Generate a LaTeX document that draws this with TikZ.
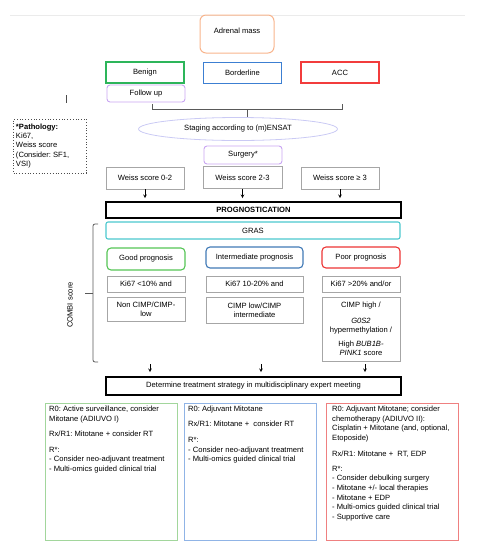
\documentclass[tikz,border=0pt]{standalone}
\usepackage{fontspec}
\setmainfont{Liberation Sans}
\usepackage{tikz}
\usetikzlibrary{shapes,arrows}
\usepackage{xcolor}
\definecolor{massorange}{HTML}{F8B48C}
\definecolor{benigngreen}{HTML}{2DB55A}
\definecolor{borderblue}{HTML}{3C7FD2}
\definecolor{accred}{HTML}{F23C3C}
\definecolor{softpurple}{HTML}{C8A4F2}
\definecolor{stagepurple}{HTML}{CACAF4}
\definecolor{boxgrey}{HTML}{A6A6A6}
\definecolor{grascyan}{HTML}{4CC8CE}
\definecolor{goodgreen}{HTML}{55C455}
\definecolor{interblue}{HTML}{4079B6}
\definecolor{poorred}{HTML}{EC3434}
\definecolor{outgreen}{HTML}{A2D69C}
\definecolor{outblue}{HTML}{90B4E6}
\definecolor{outred}{HTML}{EF8080}
\frenchspacing

\begin{document}
\begin{tikzpicture}[x=1pt,y=-1pt,
	every node/.style={font=\fontsize{7.6}{9.4}\selectfont, inner sep=2pt},
	topbox/.style={draw, line width=1.3pt, minimum width=78, minimum height=21},
	softbox/.style={draw=softpurple, line width=0.9pt, rounded corners=3, minimum width=78},
	greybox/.style={draw=boxgrey, line width=0.7pt, align=center},
	bigbox/.style={draw=black, line width=1.8pt, minimum width=295},
	progbox/.style={draw, line width=1.1pt, rounded corners=4, minimum height=21},
	outbox/.style={draw, line width=1pt, minimum width=132, minimum height=137, anchor=north west},
	outtext/.style={anchor=north west, align=left, inner sep=0pt, font=\fontsize{7.6}{9.6}\selectfont},
	arr/.style={->, >=stealth, line width=0.6pt}]
		\useasboundingbox (0,0) rectangle (477,550);
		\draw[black!8] (10,15) -- (465,15);
		% diagnosis
		\node[draw=massorange, line width=1pt, rounded corners=6, minimum width=74, minimum height=38] (mass) at (237,34) {};
		\node (masstext) at (237,31) {Adrenal mass};
		\node[topbox, draw=benigngreen] (benign) at (145,72.5) {Benign};
		\node[topbox, draw=borderblue] (border) at (242.5,73) {Borderline};
		\node[topbox, draw=accred] (acc) at (340,72.5) {ACC};
		\node[softbox, minimum height=17] (follow) at (146,93.5) {Follow up};
		\draw[black!70, line width=0.6pt] (66,95) -- (66,103);
		% bracket to staging
		\coordinate (brk) at (247,109);
		\draw[black!65, line width=0.8pt] (152,104) -- (152,109) -- (342,109) -- (342,104);
		\node[ellipse, draw=stagepurple, line width=0.8pt, minimum width=199, minimum height=23] (stage) at (238,129) {Staging according to (m)ENSAT};
		\draw[black!65, line width=0.8pt] (brk) -- (brk |- stage.north);
		\node[draw=black!70, dotted, line width=0.8pt, minimum width=72, minimum height=54, text width=68, align=flush left, inner sep=2.5pt] (patho) at (50,146) {\textbf{*Pathology:}\\Ki67,\\Weiss score\\(Consider: SF1,\\VSI)};
		\node[softbox, minimum height=18] (surgery) at (243,155) {Surgery*};
		% weiss score
		\node[greybox, minimum width=78, minimum height=22] (w1) at (145,178) {Weiss score 0-2};
		\node[greybox, minimum width=79, minimum height=22] (w2) at (242.5,177.5) {Weiss score 2-3};
		\node[greybox, minimum width=78, minimum height=22] (w3) at (340,178) {Weiss score ≥ 3};
		\node[bigbox, minimum height=16] (prog) at (253.5,210) {\textbf{PROGNOSTICATION}};
		\draw[arr] (w1.south) -- ([yshift=3pt]w1.south |- prog.north);
		\draw[arr] (w2.south) -- ([yshift=3pt]w2.south |- prog.north);
		\draw[arr] (w3.south) -- ([yshift=3pt]w3.south |- prog.north);
		% prognosis
		\node[draw=grascyan, line width=1.1pt, rounded corners=2, minimum width=294, minimum height=17] (gras) at (253,230.5) {GRAS};
		\node[progbox, draw=goodgreen, minimum width=78, minimum height=22] (good) at (146,259) {Good prognosis};
		\node[progbox, draw=interblue, minimum width=97] (inter) at (254.5,257.5) {Intermediate prognosis};
		\node[progbox, draw=poorred, minimum width=78] (poor) at (361,257.5) {Poor prognosis};
		\node[greybox, minimum width=78, minimum height=16] (ki1) at (146,284) {Ki67 <10\% and};
		\node[greybox, minimum width=97, minimum height=16] (ki2) at (254.5,284) {Ki67 10-20\% and};
		\node[greybox, minimum width=78, minimum height=16] (ki3) at (361,284) {Ki67 >20\% and/or};
		\node[greybox, minimum width=78, minimum height=24] (cimp1) at (146,309) {Non CIMP/CIMP-\\low};
		\node[greybox, minimum width=97, minimum height=26] (cimp2) at (254.5,310) {CIMP low/CIMP\\intermediate};
		\node[greybox, minimum width=78, minimum height=64] (cimp3) at (361,329) {CIMP high /\\[6pt]\textit{G0S2}\\hypermethylation /\\[4pt]High \textit{BUB1B-}\\\textit{PINK1} score};
		% combi bracket
		\draw[black!65, line width=0.8pt, rounded corners=2] (98,224) -- (93,224) -- (93,362) -- (98,362);
		\coordinate (combitip) at (85,293);
		\draw[black!65, line width=0.8pt] (93,293) -- (combitip);
		\node[rotate=90] (combi) at (70,305) {COMBI score};
		% treatment
		\node[bigbox, minimum height=18] (det) at (253.5,386) {Determine treatment strategy in multidisciplinary expert meeting};
		\coordinate (a1) at (150,364);
		\coordinate (a2) at (261,364);
		\coordinate (a3) at (365,364);
		\draw[arr] (a1) -- ([yshift=4pt]a1 |- det.north);
		\draw[arr] (a2) -- ([yshift=4pt]a2 |- det.north);
		\draw[arr] (a3) -- ([yshift=4pt]a3 |- det.north);
		\node[outbox, draw=outgreen] (rgood) at (45,403) {};
		\node[outbox, draw=outblue] (rinter) at (184,403) {};
		\node[outbox, draw=outred] (rpoor) at (326,403) {};
		\node[outtext] (tgood) at ([shift={(4,3)}]rgood.north west) {R0: Active surveillance, consider\\Mitotane (ADIUVO I)\\[6pt]Rx/R1: Mitotane + consider RT\\[5.5pt]R*:\\- Consider neo-adjuvant treatment\\- Multi-omics guided clinical trial};
		\node[outtext] (tinter) at ([shift={(4,3)}]rinter.north west) {R0: Adjuvant Mitotane\\[5.5pt]Rx/R1: Mitotane +\ \ consider RT\\[6pt]R*:\\- Consider neo-adjuvant treatment\\- Multi-omics guided clinical trial};
		\node[outtext] (tpoor) at ([shift={(6,3)}]rpoor.north west) {R0: Adjuvant Mitotane; consider\\chemotherapy (ADIUVO II):\\Cisplatin + Mitotane (and, optional,\\Etoposide)\\[6pt]Rx/R1: Mitotane +\ \ RT, EDP\\[5.5pt]R*:\\- Consider debulking surgery\\- Mitotane +/- local therapies\\- Mitotane + EDP\\- Multi-omics guided clinical trial\\- Supportive care};
\end{tikzpicture}
\end{document}
